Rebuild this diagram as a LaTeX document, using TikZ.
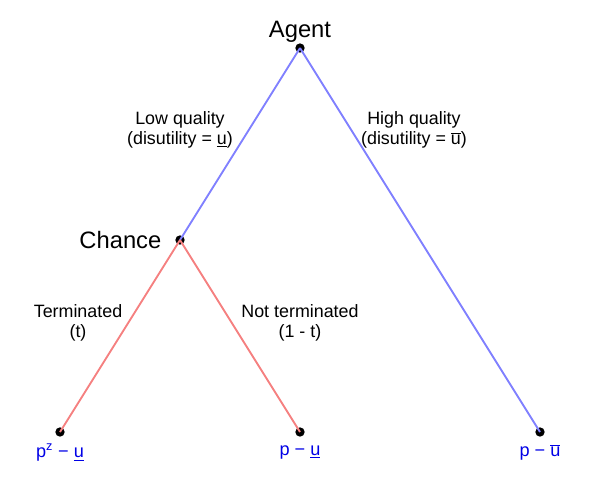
\documentclass[tikz,border=0pt]{standalone}
\usepackage{fontspec}
\setmainfont{Liberation Sans}
\definecolor{bluel}{RGB}{128,128,255}
\definecolor{redl}{RGB}{245,128,128}
\definecolor{leafc}{RGB}{0,0,230}
\begin{document}
\begin{tikzpicture}[x=0.75pt,y=-0.75pt,
  dot/.style={circle,fill=black,inner sep=0pt,minimum size=7pt},
  lab/.style={font=\fontsize{13.4}{15}\selectfont,align=center},
  leaf/.style={font=\fontsize{13.6}{15}\selectfont,text=leafc},
  big/.style={font=\fontsize{17.8}{20}\selectfont}]
\useasboundingbox (0,0) rectangle (600,480);
\node[dot] (agent) at (300,48) {};
\node[dot] (chance) at (180,240) {};
\node[dot] (l1) at (60,432) {};
\node[dot] (l2) at (300,432) {};
\node[dot] (l3) at (540,432) {};
\node[big] (agentlab) at (300,32) {Agent};
\node[big,anchor=east] (chancelab) at (166,240) {Chance};
\draw[bluel,line width=1.4pt] (agent.center) -- (chance.center);
\draw[bluel,line width=1.4pt] (agent.center) -- (l3.center);
\draw[redl,line width=1.4pt] (chance.center) -- (l1.center);
\draw[redl,line width=1.4pt] (chance.center) -- (l2.center);
\node[lab] (lowq) at (180,130) {Low quality\\(disutility = \underline{u})};
\node[lab] (highq) at (414,130) {High quality\\(disutility = $\overline{\mbox{u}}$)};
\node[lab] (term) at (78,323) {Terminated\\(t)};
\node[lab] (nterm) at (300,323) {Not terminated\\(1 - t)};
\node[leaf] (t1) at (60,453) {p\textsuperscript{z} − \underline{u}};
\node[leaf] (t2) at (300,452) {p − \underline{u}};
\node[leaf] (t3) at (540,452) {p − $\overline{\mbox{u}}$};
\end{tikzpicture}
\end{document}
